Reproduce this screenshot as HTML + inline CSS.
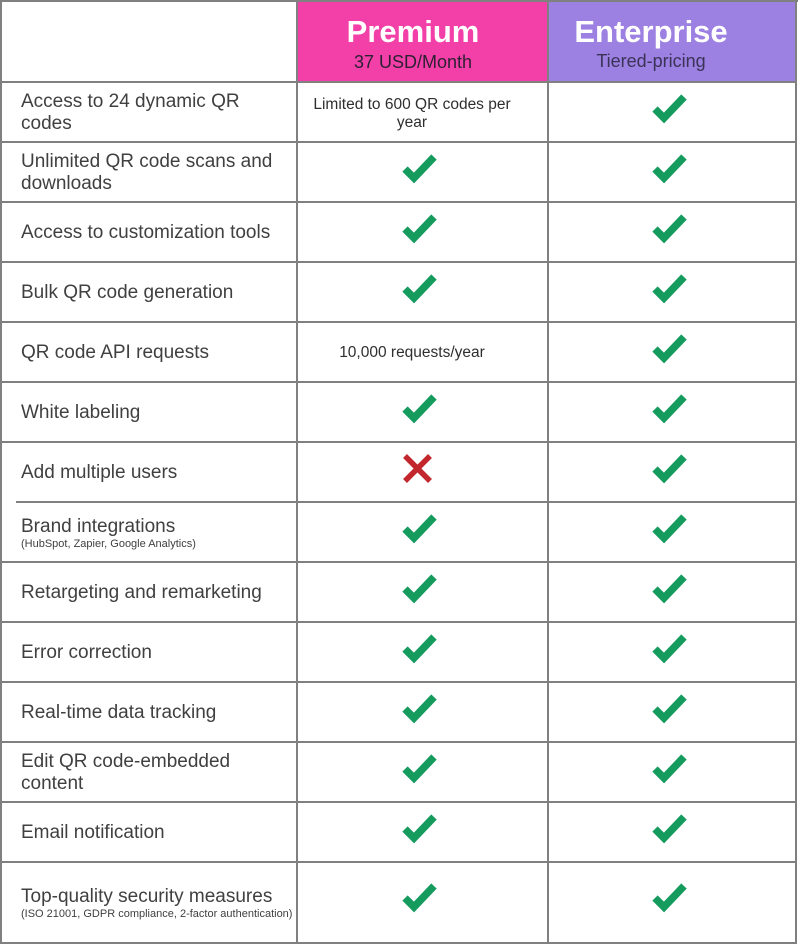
<!DOCTYPE html>
<html><head><meta charset="utf-8"><style>
html,body{margin:0;padding:0;background:#fff;}
body{width:800px;height:945px;position:relative;overflow:hidden;font-family:"Liberation Sans",Arial,sans-serif;}
.ln{position:absolute;background:#808080;}
.hd{position:absolute;top:2px;height:79px;}
.t{position:absolute;white-space:nowrap;text-align:center;}
.lt{position:absolute;left:21px;width:272px;height:60px;display:flex;flex-direction:column;justify-content:center;color:#404040;font-size:19px;line-height:22px;}
.lt small{font-size:11px;line-height:12px;display:block;}
.pc{position:absolute;left:300px;width:224px;height:60px;display:flex;align-items:center;justify-content:center;text-align:center;color:#2e2e2e;font-size:15.5px;line-height:18px;}
svg.ic{position:absolute;width:36px;height:32px;overflow:visible;}
</style></head><body>
<div class="hd" style="left:298px;width:249px;background:#f240a8;"></div>
<div class="hd" style="left:549px;width:247px;background:#9c80e2;"></div>
<div class="t" style="left:313px;width:200px;top:16px;font-size:31px;line-height:31px;font-weight:bold;color:#fff;">Premium</div>
<div class="t" style="left:313px;width:200px;top:53px;font-size:18px;line-height:18px;color:#2d1f33;">37 USD/Month</div>
<div class="t" style="left:551px;width:200px;top:16px;font-size:31px;line-height:31px;font-weight:bold;color:#fff;">Enterprise</div>
<div class="t" style="left:551px;width:200px;top:52px;font-size:18px;line-height:18px;color:#3a3357;">Tiered-pricing</div>

<!-- lines -->
<div class="ln" style="left:0;top:0;width:798px;height:2px;"></div>
<div class="ln" style="left:0;top:0;width:2px;height:944px;"></div>
<div class="ln" style="left:795px;top:0;width:2px;height:944px;"></div>
<div class="ln" style="left:0;top:942px;width:797px;height:2px;"></div>
<div class="ln" style="left:296px;top:0;width:2px;height:944px;"></div>
<div class="ln" style="left:547px;top:0;width:2px;height:944px;"></div>
<div class="ln" style="left:0;top:81px;width:797px;height:2px;"></div>
<div class="ln" style="left:0;top:141px;width:797px;height:2px;"></div>
<div class="ln" style="left:0;top:201px;width:797px;height:2px;"></div>
<div class="ln" style="left:0;top:261px;width:797px;height:2px;"></div>
<div class="ln" style="left:0;top:321px;width:797px;height:2px;"></div>
<div class="ln" style="left:0;top:381px;width:797px;height:2px;"></div>
<div class="ln" style="left:0;top:441px;width:797px;height:2px;"></div>
<div class="ln" style="left:16px;top:501px;width:781px;height:2px;"></div>
<div class="ln" style="left:0;top:561px;width:797px;height:2px;"></div>
<div class="ln" style="left:0;top:621px;width:797px;height:2px;"></div>
<div class="ln" style="left:0;top:681px;width:797px;height:2px;"></div>
<div class="ln" style="left:0;top:741px;width:797px;height:2px;"></div>
<div class="ln" style="left:0;top:801px;width:797px;height:2px;"></div>
<div class="ln" style="left:0;top:861px;width:797px;height:2px;"></div>

<!-- left labels -->
<div class="lt" style="top:83px;">Access to 24 dynamic QR<br>codes</div>
<div class="lt" style="top:143px;">Unlimited QR code scans and<br>downloads</div>
<div class="lt" style="top:203px;">Access to customization tools</div>
<div class="lt" style="top:263px;">Bulk QR code generation</div>
<div class="lt" style="top:323px;">QR code API requests</div>
<div class="lt" style="top:383px;">White labeling</div>
<div class="lt" style="top:443px;">Add multiple users</div>
<div class="lt" style="top:503px;"><span>Brand integrations</span><small>(HubSpot, Zapier, Google Analytics)</small></div>
<div class="lt" style="top:563px;">Retargeting and remarketing</div>
<div class="lt" style="top:623px;">Error correction</div>
<div class="lt" style="top:683px;">Real-time data tracking</div>
<div class="lt" style="top:743px;">Edit QR code-embedded<br>content</div>
<div class="lt" style="top:803px;">Email notification</div>
<div class="lt" style="top:873px;"><span>Top-quality security measures</span><small>(ISO 21001, GDPR compliance, 2-factor authentication)</small></div>

<!-- premium text cells -->
<div class="pc" style="top:84px;">Limited to 600 QR codes per<br>year</div>
<div class="pc" style="top:323px;">10,000 requests/year</div>

<!-- icons -->
<svg width="0" height="0" style="position:absolute">
<defs>
<g id="ck"><polyline points="4,17 13,26 33,5" fill="none" stroke="#159b5e" stroke-width="7.5" stroke-linejoin="miter" stroke-linecap="butt"/></g>
</defs>
</svg>

<!-- premium checks -->
<svg class="ic" style="left:401px;top:152px"><use href="#ck"/></svg>
<svg class="ic" style="left:401px;top:212px"><use href="#ck"/></svg>
<svg class="ic" style="left:401px;top:272px"><use href="#ck"/></svg>
<svg class="ic" style="left:401px;top:392px"><use href="#ck"/></svg>
<svg class="ic" style="left:401px;top:512px"><use href="#ck"/></svg>
<svg class="ic" style="left:401px;top:572px"><use href="#ck"/></svg>
<svg class="ic" style="left:401px;top:632px"><use href="#ck"/></svg>
<svg class="ic" style="left:401px;top:692px"><use href="#ck"/></svg>
<svg class="ic" style="left:401px;top:752px"><use href="#ck"/></svg>
<svg class="ic" style="left:401px;top:812px"><use href="#ck"/></svg>
<svg class="ic" style="left:401px;top:881px"><use href="#ck"/></svg>
<!-- X -->
<svg class="ic" style="left:401px;top:452px"><g stroke="#c1272d" stroke-width="5.5" stroke-linecap="butt"><line x1="4" y1="4" x2="29" y2="29"/><line x1="29" y1="4" x2="4" y2="29"/></g></svg>

<!-- enterprise checks -->
<svg class="ic" style="left:651px;top:92px"><use href="#ck"/></svg>
<svg class="ic" style="left:651px;top:152px"><use href="#ck"/></svg>
<svg class="ic" style="left:651px;top:212px"><use href="#ck"/></svg>
<svg class="ic" style="left:651px;top:272px"><use href="#ck"/></svg>
<svg class="ic" style="left:651px;top:332px"><use href="#ck"/></svg>
<svg class="ic" style="left:651px;top:392px"><use href="#ck"/></svg>
<svg class="ic" style="left:651px;top:452px"><use href="#ck"/></svg>
<svg class="ic" style="left:651px;top:512px"><use href="#ck"/></svg>
<svg class="ic" style="left:651px;top:572px"><use href="#ck"/></svg>
<svg class="ic" style="left:651px;top:632px"><use href="#ck"/></svg>
<svg class="ic" style="left:651px;top:692px"><use href="#ck"/></svg>
<svg class="ic" style="left:651px;top:752px"><use href="#ck"/></svg>
<svg class="ic" style="left:651px;top:812px"><use href="#ck"/></svg>
<svg class="ic" style="left:651px;top:881px"><use href="#ck"/></svg>
</body></html>
